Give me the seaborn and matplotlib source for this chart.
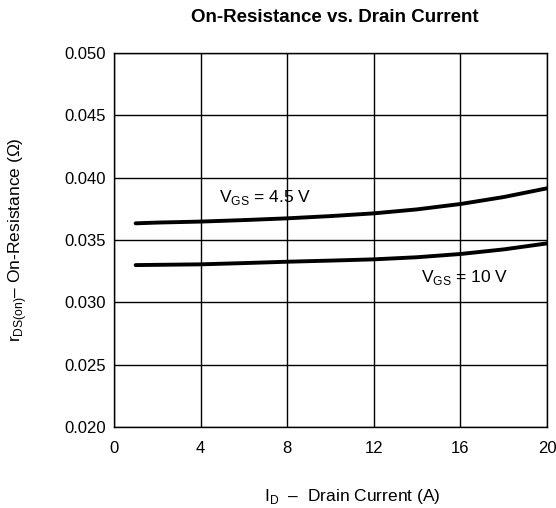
import numpy as np
import pandas as pd
import seaborn as sns
import matplotlib.pyplot as plt

# Drain current (A) and on-resistance (ohm)
drain_current = [1, 2, 4, 6, 8, 10, 12, 14, 16, 18, 20]
r_vgs_4v5 = [0.03634, 0.03640, 0.03648, 0.03660, 0.03674, 0.03692, 0.03714, 0.03746, 0.03789, 0.03845, 0.03915]
r_vgs_10v = [0.03299, 0.03301, 0.03305, 0.03315, 0.03326, 0.03335, 0.03345, 0.03362, 0.03388, 0.03425, 0.03473]

x_ticks = [0, 4, 8, 12, 16, 20]
y_ticks = [0.020, 0.025, 0.030, 0.035, 0.040, 0.045, 0.050]

df = pd.DataFrame({
    'I_D': drain_current * 2,
    'r': r_vgs_4v5 + r_vgs_10v,
    'V_GS': ['4.5 V'] * len(drain_current) + ['10 V'] * len(drain_current),
})

sns.set_theme(style='white')
plt.rcParams['font.family'] = ['Liberation Sans', 'DejaVu Sans']
plt.rcParams['mathtext.fontset'] = 'custom'
plt.rcParams['mathtext.rm'] = 'Liberation Sans'
plt.rcParams['text.color'] = 'black'
plt.rcParams['axes.labelcolor'] = 'black'

fig = plt.figure(figsize=(5.56, 5.08), dpi=100)
ax = fig.add_axes([0.205, 0.1594, 0.779, 0.7362])

sns.lineplot(data=df, x='I_D', y='r', units='V_GS', estimator=None,
             color='black', linewidth=2.8, legend=False, ax=ax)

ax.set_xlim(0, 20)
ax.set_ylim(0.020, 0.050)
ax.set_xticks(x_ticks)
ax.set_yticks(y_ticks)
ax.set_yticklabels([f'{v:.3f}' for v in y_ticks])
ax.grid(True, color='black', linewidth=1.0)
for s in ax.spines.values():
    s.set_color('black')
    s.set_linewidth(1.0)
ax.tick_params(labelsize=12, colors='black', length=0)
ax.tick_params(axis='x', pad=10)
ax.tick_params(axis='y', pad=6)

ax.text(4.85, 0.0384, r'V$_{\mathrm{GS}}$ = 4.5 V', fontsize=12.5, va='center')
ax.text(14.2, 0.0320, r'V$_{\mathrm{GS}}$ = 10 V', fontsize=12.5, va='center')

ax.set_xlabel(r'I$_{\mathrm{D}}$  –  Drain Current (A)', fontsize=12.5, va='center')
ax.xaxis.set_label_coords(0.55, -0.187)
ax.set_ylabel(r'r$_{\mathrm{DS(on)}}$– On-Resistance ($\Omega$)', fontsize=12.5, va='center')
ax.yaxis.set_label_coords(-0.222, 0.5)
fig.text(335 / 556, 1 - 17 / 508, 'On-Resistance vs. Drain Current',
         fontsize=13.5, fontweight='bold', ha='center', va='center')

fig.savefig('out.png', dpi=100)
